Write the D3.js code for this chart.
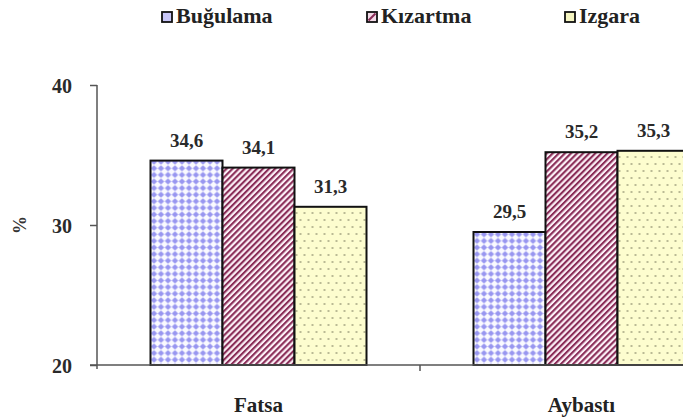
<!DOCTYPE html>
<html>
<head>
<meta charset="utf-8">
<script src="https://cdn.jsdelivr.net/npm/d3@7"></script>
<style>
  html, body { margin: 0; padding: 0; background: #fff; }
  svg { display: block; }
</style>
</head>
<body>
<svg id="chart" width="683" height="419"></svg>
<script>
// Regions, cooking methods and measured percentages
const regions = ["Fatsa", "Aybastı"];
const methods = ["Buğulama", "Kızartma", "Izgara"];
const buguValues = [34.6, 29.5];
const kizartmaValues = [34.1, 35.2];
const izgaraValues = [31.3, 35.3];
const yTicks = [20, 30, 40];

const seriesValues = [buguValues, kizartmaValues, izgaraValues];
const fmt = v => v.toFixed(1).replace(".", ",");
const SERIF = "Liberation Serif";

const svg = d3.select("#chart");
const defs = svg.append("defs");

// Fill patterns for each series
const pBugu = defs.append("pattern").attr("id", "pat0").attr("patternUnits", "userSpaceOnUse")
  .attr("width", 7).attr("height", 6.6);
pBugu.append("rect").attr("width", 7).attr("height", 6.6).attr("fill", "#fafaff");
pBugu.append("path").attr("d", "M3.5,0.3 L6.7,3.3 L3.5,6.3 L0.3,3.3 Z").attr("fill", "#9896f0");

const pKiz = defs.append("pattern").attr("id", "pat1").attr("patternUnits", "userSpaceOnUse")
  .attr("width", 4.3).attr("height", 8).attr("patternTransform", "rotate(45)");
pKiz.append("rect").attr("width", 4.3).attr("height", 8).attr("fill", "#fcf0f7");
pKiz.append("rect").attr("x", 0).attr("width", 2.1).attr("height", 8).attr("fill", "#8a2d58");

const pIzg = defs.append("pattern").attr("id", "pat2").attr("patternUnits", "userSpaceOnUse")
  .attr("width", 8).attr("height", 14);
pIzg.append("rect").attr("width", 8).attr("height", 14).attr("fill", "#fdfdcf");
pIzg.append("circle").attr("cx", 2).attr("cy", 3).attr("r", 0.8).attr("fill", "#66664c");
pIzg.append("circle").attr("cx", 6).attr("cy", 10).attr("r", 0.8).attr("fill", "#66664c");

const fills = ["url(#pat0)", "url(#pat1)", "url(#pat2)"];

const plot = { left: 97, right: 743, top: 85, bottom: 365 };
const groupWidth = 216;

const x0 = d3.scaleBand().domain(regions).range([plot.left, plot.right]);
const x1 = d3.scaleBand().domain(methods).range([0, groupWidth]);
const y = d3.scaleLinear().domain([20, 40]).range([plot.bottom, plot.top]);

// Bars
const groups = svg.append("g").selectAll("g")
  .data(regions)
  .join("g")
  .attr("transform", d => `translate(${x0(d) + (x0.bandwidth() - groupWidth) / 2},0)`);

groups.selectAll("rect")
  .data((r, ri) => methods.map((m, mi) => ({ m, mi, v: seriesValues[mi][ri] })))
  .join("rect")
  .attr("x", d => x1(d.m))
  .attr("y", d => y(d.v))
  .attr("width", x1.bandwidth())
  .attr("height", d => y(20) - y(d.v))
  .attr("fill", d => fills[d.mi])
  .attr("stroke", "#111")
  .attr("stroke-width", 2);

// Value labels
groups.selectAll("text.val")
  .data((r, ri) => methods.map((m, mi) => ({ m, v: seriesValues[mi][ri] })))
  .join("text")
  .attr("class", "val")
  .attr("x", d => x1(d.m) + x1.bandwidth() / 2)
  .attr("y", d => y(d.v) - 14)
  .attr("text-anchor", "middle")
  .attr("font-family", SERIF)
  .attr("font-size", 19)
  .attr("font-weight", "bold")
  .attr("fill", "#2a2a2a")
  .text(d => fmt(d.v));

// Y axis
const yAxis = d3.axisLeft(y).tickValues(yTicks).tickSize(7).tickPadding(18);
const gy = svg.append("g").attr("transform", `translate(${plot.left},0)`).call(yAxis)
  .attr("font-family", SERIF).attr("font-size", 20).attr("font-weight", "bold");
gy.select(".domain").attr("stroke", "#555").attr("stroke-width", 1.5).attr("d", `M0,${plot.top}V${plot.bottom + 4}`);
gy.selectAll(".tick line").attr("stroke", "#555").attr("stroke-width", 1.5);
gy.selectAll(".tick text").attr("fill", "#2a2a2a").attr("dy", "0.35em");

// X axis
const xAxis = d3.axisBottom(x0).tickSize(0).tickPadding(32);
const gx = svg.append("g").attr("transform", `translate(0,${plot.bottom})`).call(xAxis)
  .attr("font-family", SERIF).attr("font-size", 21).attr("font-weight", "bold");
gx.select(".domain").attr("stroke", "#555").attr("stroke-width", 1.5).attr("d", `M${plot.left - 7},0H${plot.right}`);
gx.selectAll(".tick text").attr("fill", "#222").attr("dy", "0.71em");
// Separator tick between regions
svg.append("line")
  .attr("x1", x0(regions[1])).attr("x2", x0(regions[1]))
  .attr("y1", plot.bottom).attr("y2", plot.bottom + 6)
  .attr("stroke", "#555").attr("stroke-width", 1.5);

// Y axis title
svg.append("text")
  .attr("transform", `translate(20,${y(30)}) rotate(-90)`)
  .attr("text-anchor", "middle")
  .attr("dy", "0.35em")
  .attr("font-family", SERIF).attr("font-size", 18).attr("font-weight", "bold")
  .attr("fill", "#333")
  .text("%");

// Legend
const legendX = [162, 367, 565];
const legend = svg.append("g").selectAll("g")
  .data(methods)
  .join("g")
  .attr("transform", (d, i) => `translate(${legendX[i]},12)`);
legend.append("rect")
  .attr("width", 10).attr("height", 10)
  .attr("fill", (d, i) => ["#c8c6f8", "#f3dbe8", "#f4f4c0"][i])
  .attr("stroke", "#111").attr("stroke-width", 1.8);
legend.filter((d, i) => i === 1).append("line")
  .attr("x1", 1.5).attr("y1", 8.5).attr("x2", 8.5).attr("y2", 1.5)
  .attr("stroke", "#8a2d58").attr("stroke-width", 2.2);
legend.append("text")
  .attr("x", 14).attr("y", 11)
  .attr("font-family", SERIF).attr("font-size", 22).attr("font-weight", "bold")
  .attr("fill", "#222")
  .text(d => d);
</script>
</body>
</html>
